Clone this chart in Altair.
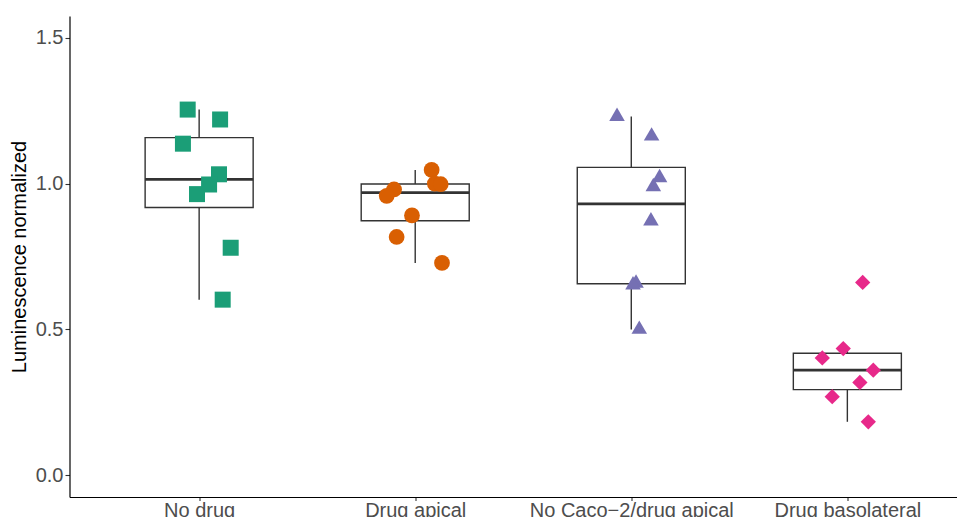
import altair as alt
import pandas as pd

groups = ["No drug", "Drug apical", "No Caco\u22122/drug apical", "Drug basolateral"]
positions = [1, 2, 3, 4]
colors = ["#1B9E77", "#D95F02", "#7570B3", "#E7298A"]

no_drug_vals = [1.254, 1.220, 1.137, 1.032, 0.997, 0.964, 0.780, 0.602]
no_drug_jit = [-0.053, 0.097, -0.075, 0.092, 0.046, -0.010, 0.146, 0.109]

apical_vals = [1.047, 1.000, 0.998, 0.980, 0.958, 0.891, 0.817, 0.728]
apical_jit = [0.076, 0.091, 0.118, -0.098, -0.132, -0.015, -0.086, 0.124]

nocaco_vals = [1.230, 1.163, 1.020, 0.989, 0.872, 0.658, 0.652, 0.500]
nocaco_jit = [-0.066, 0.094, 0.131, 0.102, 0.091, 0.022, 0.008, 0.037]

baso_vals = [0.661, 0.434, 0.402, 0.360, 0.318, 0.269, 0.183]
baso_jit = [0.071, -0.019, -0.116, 0.120, 0.058, -0.070, 0.097]

y_ticks = [0.0, 0.5, 1.0, 1.5]

series = [
    (no_drug_vals, no_drug_jit),
    (apical_vals, apical_jit),
    (nocaco_vals, nocaco_jit),
    (baso_vals, baso_jit),
]

rows = []
for g, p, (vals, jit) in zip(groups, positions, series):
    for v, j in zip(vals, jit):
        rows.append({"group": g, "pos": p, "value": v, "jit": j})
df = pd.DataFrame(rows)

FONT = "Liberation Sans"
BOXC = "#333333"
LW = 1.4

xscale = alt.Scale(domain=[0.4, 0.4 + 887.5 / 216.07], nice=False, zero=False)
yscale = alt.Scale(domain=[-0.075, 1.575], nice=False, zero=False)

label_expr = "[" + ",".join(["''"] + ["'" + g + "'" for g in groups]) + "][datum.value]"

xaxis = alt.Axis(values=positions, labelExpr=label_expr, title=None, grid=False,
                 labelFont=FONT, labelFontSize=20, labelColor="#4D4D4D",
                 labelPadding=0, tickSize=3.5, tickColor=BOXC, tickWidth=1.1,
                 domainColor="black", domainWidth=1.2, labelOverlap=False,
                 labelFlush=False, labelLimit=0)
yaxis = alt.Axis(values=y_ticks, format=".1f", title="Luminescence normalized",
                 grid=False, labelFont=FONT, labelFontSize=20, labelColor="#4D4D4D",
                 labelPadding=2, tickSize=4.5, tickColor=BOXC, tickWidth=1.1,
                 domainColor="black", domainWidth=1.2,
                 titleFont=FONT, titleFontSize=20, titleColor="black",
                 titleFontWeight="normal", titleX=-50, titleY=240.5,
                 titleAngle=270, titleBaseline="middle", titleAlign="center")

base = alt.Chart(df)

stats = base.transform_joinaggregate(
    q1="q1(value)", q3="q3(value)", med="median(value)", groupby=["group"]
).transform_calculate(
    lof="datum.q1 - 1.5*(datum.q3 - datum.q1)",
    hif="datum.q3 + 1.5*(datum.q3 - datum.q1)",
).transform_filter(
    "datum.value >= datum.lof && datum.value <= datum.hif"
).transform_aggregate(
    lower="min(value)", upper="max(value)", q1="max(q1)", q3="max(q3)",
    med="max(med)", groupby=["group", "pos"]
).transform_calculate(
    xl="datum.pos - 0.25", xr="datum.pos + 0.25"
)

whisk_hi = stats.mark_rule(color=BOXC, strokeWidth=LW).encode(
    x=alt.X("pos:Q", scale=xscale, axis=xaxis),
    y=alt.Y("q3:Q", scale=yscale, axis=yaxis),
    y2="upper:Q",
)
whisk_lo = stats.mark_rule(color=BOXC, strokeWidth=LW).encode(
    x=alt.X("pos:Q", scale=xscale),
    y=alt.Y("lower:Q", scale=yscale),
    y2="q1:Q",
)
box = stats.mark_rect(fill="white", stroke=BOXC, strokeWidth=LW).encode(
    x=alt.X("xl:Q", scale=xscale),
    x2="xr:Q",
    y=alt.Y("q1:Q", scale=yscale),
    y2="q3:Q",
)
median = stats.mark_rule(color=BOXC, strokeWidth=2.8).encode(
    x=alt.X("xl:Q", scale=xscale),
    x2="xr:Q",
    y=alt.Y("med:Q", scale=yscale),
)

tri = "M-1,0.577L1,0.577L0,-1.155Z"
points = base.transform_calculate(xj="datum.pos + datum.jit").mark_point(
    filled=True, opacity=1, strokeWidth=0
).encode(
    x=alt.X("xj:Q", scale=xscale),
    y=alt.Y("value:Q", scale=yscale),
    color=alt.Color("group:N", scale=alt.Scale(domain=groups, range=colors), legend=None),
    shape=alt.Shape("group:N", scale=alt.Scale(domain=groups,
                    range=["square", "circle", tri, "diamond"]), legend=None),
    size=alt.Size("group:N", scale=alt.Scale(domain=groups,
                  range=[256, 234, 372, 235]), legend=None),
)

chart = alt.layer(whisk_hi, whisk_lo, box, median, points).properties(
    width=887.5, height=481,
    autosize=alt.AutoSizeParams(type="none"),
    padding={"left": 61.5, "top": 8, "right": 0, "bottom": 20},
    background="white",
).configure_view(stroke=None)

chart.save("out.html", embed_options={"renderer": "svg", "actions": False})
